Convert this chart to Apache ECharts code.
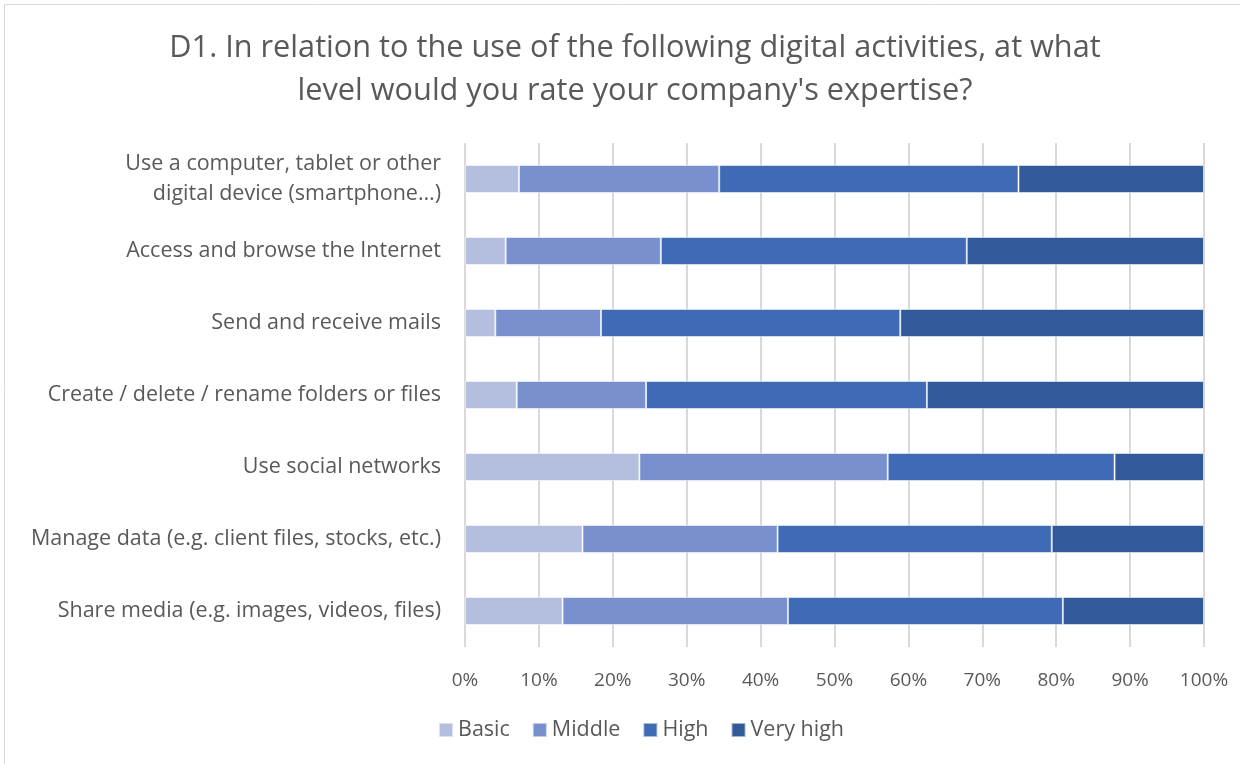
<!DOCTYPE html>
<html>
<head>
<meta charset="utf-8">
<script src="https://cdn.jsdelivr.net/npm/echarts@6/dist/echarts.min.js"></script>
<style>
  html, body { margin: 0; padding: 0; background: #fff; }
  #chart { width: 1240px; height: 764px; }
</style>
</head>
<body>
<div id="chart"></div>
<script>
// Survey activities (top to bottom)
const categories = [
  'Use a computer, tablet or other\ndigital device (smartphone…)',
  'Access and browse the Internet',
  'Send and receive mails',
  'Create / delete / rename folders or files',
  'Use social networks',
  'Manage data (e.g. client files, stocks, etc.)',
  'Share media (e.g. images, videos, files)'
];

// Share of respondents per expertise level (%)
const basic    = [7.3, 5.5, 4.1, 7.0, 23.6, 15.9, 13.2];
const middle   = [27.1, 21.0, 14.3, 17.5, 33.6, 26.4, 30.5];
const high     = [40.5, 41.4, 40.5, 38.0, 30.7, 37.1, 37.2];
const veryHigh = [25.1, 32.1, 41.1, 37.5, 12.1, 20.6, 19.1];

const levels = ['Basic', 'Middle', 'High', 'Very high'];
const levelData = [basic, middle, high, veryHigh];
const levelColors = ['#B4BEDF', '#7990CE', '#3F6AB6', '#335A98'];

const FONT = '"Open Sans", "Noto Sans", sans-serif';
const TEXT = '#595959';

const chart = echarts.init(document.getElementById('chart'), null, { renderer: 'canvas' });

chart.setOption({
  backgroundColor: '#fff',
  animation: false,
  graphic: [{
    type: 'rect',
    shape: { x: 4.5, y: 4.5, width: 1250, height: 770 },
    style: { fill: 'none', stroke: '#d9d9d9', lineWidth: 1 },
    silent: true
  }],
  title: {
    text: 'D1. In relation to the use of the following digital activities, at what\nlevel would you rate your company\'s expertise?',
    left: 630,
    textAlign: 'center',
    top: 22,
    textStyle: {
      fontFamily: FONT,
      fontWeight: 'normal',
      fontSize: 30.7,
      color: TEXT,
      lineHeight: 43
    }
  },
  legend: {
    bottom: 18,
    left: 433,
    padding: 5,
    itemWidth: 14,
    itemHeight: 14,
    itemGap: 22,
    icon: 'rect',
    textStyle: { fontFamily: FONT, fontSize: 21.5, color: TEXT },
    data: levels
  },
  grid: {
    left: 465,
    right: 36,
    top: 143,
    bottom: 117,
    containLabel: false
  },
  xAxis: {
    type: 'value',
    min: 0,
    max: 100,
    interval: 10,
    axisLabel: {
      formatter: '{value}%',
      fontFamily: FONT,
      fontSize: 19,
      color: TEXT,
      margin: 24
    },
    axisLine: { show: false },
    axisTick: { show: false },
    splitLine: { lineStyle: { color: '#d9d9d9', width: 2 } }
  },
  yAxis: {
    type: 'category',
    data: categories,
    inverse: true,
    axisLine: { show: false },
    axisTick: { show: false },
    axisLabel: {
      fontFamily: FONT,
      fontSize: 21.5,
      color: TEXT,
      margin: 24,
      lineHeight: 30,
      align: 'right'
    }
  },
  series: levels.map((name, i) => ({
    name,
    type: 'bar',
    stack: 'total',
    barWidth: '39%',
    data: levelData[i],
    itemStyle: {
      color: levelColors[i],
      borderColor: 'rgba(255,255,255,0.55)',
      borderWidth: 1
    }
  }))
});
</script>
</body>
</html>
